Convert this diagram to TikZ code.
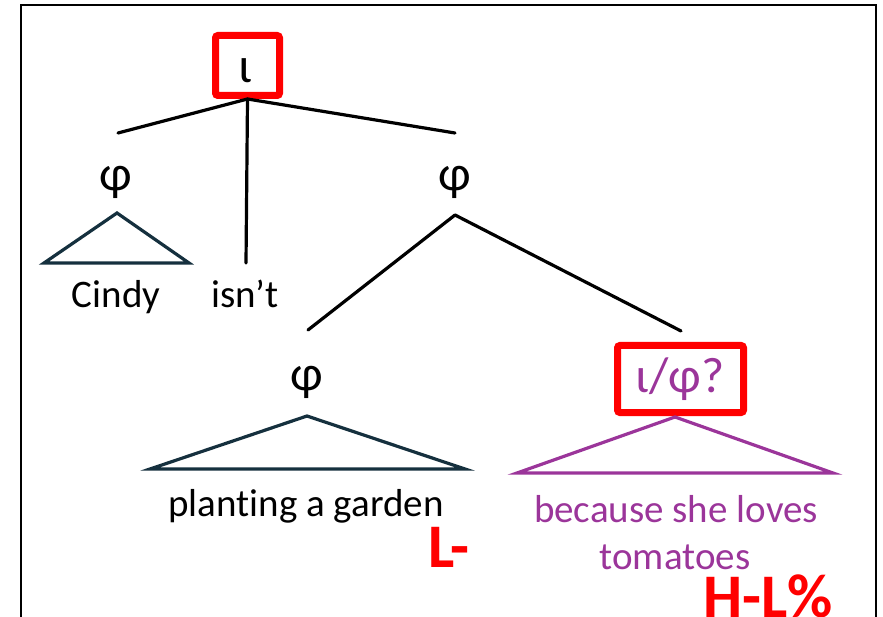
\documentclass[tikz,border=0pt]{standalone}
\usepackage{fontspec}
\setmainfont[Ligatures=NoCommon]{Carlito}
\definecolor{tri}{HTML}{15303E}
\definecolor{purp}{HTML}{9B359A}
\definecolor{redb}{HTML}{FF0000}
\tikzset{
  lbl/.style={inner sep=0pt, font=\fontsize{39}{46}\selectfont},
  glbl/.style={inner sep=0pt, font=\fontsize{50}{58}\selectfont},
  plbl/.style={lbl, text=purp},
  bigred/.style={inner sep=0pt, anchor=base west, text=redb, font=\fontsize{62}{70}\selectfont\bfseries},
  redbox/.style={draw=redb, line width=7pt, rounded corners=2.5pt, inner sep=0pt},
  edge/.style={line width=3.2pt, line cap=round},
  tribox/.style={draw=tri, line width=3.2pt, line join=miter},
  ptri/.style={draw=purp, line width=3.2pt, line join=miter},
}
\begin{document}
\begin{tikzpicture}[x=1pt,y=-1pt]
\useasboundingbox (0,0) rectangle (883,617);
\clip (0,0) rectangle (883,617);
% frame
\draw[line width=2.2pt] (21,640) -- (21,5) -- (876,5) -- (876,640);

% top iota
\node[redbox, minimum width=64pt, minimum height=60pt] (top) at (247.5,65.5) {};
\node[glbl] (topt) at (245,71) {ι};

% first level
\coordinate (l1) at (118,133);
\coordinate (l2) at (246,263);
\coordinate (l3) at (455,133);
\draw[edge] (top.south) -- (l1);
\draw[edge] (top.south) -- (l2);
\draw[edge] (top.south) -- (l3);

\node[glbl] (phiL) at (116,182) {φ};
\node[lbl, anchor=base] (cindy) at (116,308) {Cindy};
\node[lbl, anchor=base] (isnt) at (245,308) {isn’t};
\node[glbl] (phiR) at (455,182) {φ};

% left triangle
\coordinate (tA) at (117,213);
\draw[tribox] (tA) -- (44,263) -- (189,263) -- cycle;

% right phi branches
\coordinate (rA) at (455,215);
\coordinate (r1) at (308,330);
\coordinate (r2) at (681,331);
\draw[edge] (rA) -- (r1);
\draw[edge] (rA) -- (r2);

% middle phi
\node[glbl] (phiM) at (307,382) {φ};
\coordinate (mA) at (307,416);
\draw[tribox] (mA) -- (150,469) -- (465,469) -- cycle;
\node[lbl, anchor=base] (plant) at (306,516) {planting a garden};
\node[bigred] (lminus) at (428,567) {L-};

% iota/phi? box
\node[redbox, minimum width=126pt, minimum height=67pt] (ip) at (680.5,379) {};
\node[glbl, text=purp] (ipt) at (680,379) {ι/φ?};
\coordinate (pA) at (675,417);
\draw[ptri] (pA) -- (517,473) -- (833,473) -- cycle;
\node[plbl, anchor=base] (bec) at (676,522) {because she loves};
\node[plbl, anchor=base] (tom) at (675,569) {tomatoes};
\node[bigred] (hl) at (703,617) {H-L\%};
\end{tikzpicture}
\end{document}
